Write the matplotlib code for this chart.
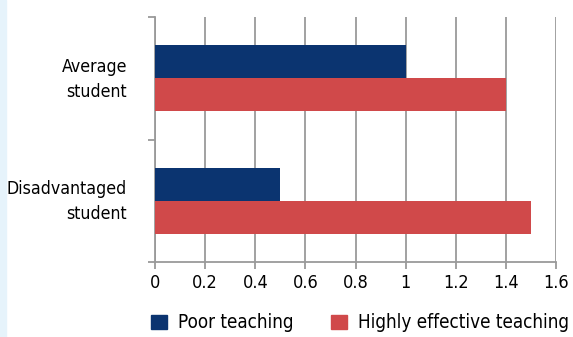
import matplotlib.pyplot as plt
import numpy as np
from matplotlib.patches import Patch

categories = ["Average\nstudent", "Disadvantaged\nstudent"]
poor_teaching = [1.0, 0.5]
effective_teaching = [1.4, 1.5]
xticks = [0, 0.2, 0.4, 0.6, 0.8, 1, 1.2, 1.4, 1.6]
xtick_labels = ["0", "0.2", "0.4", "0.6", "0.8", "1", "1.2", "1.4", "1.6"]

navy = "#0b3470"
red = "#d0494a"
grid_col = "#9a9a9a"

plt.rcParams['font.family'] = ['DejaVu Sans']
plt.rcParams['font.stretch'] = 'condensed'

fig = plt.figure(figsize=(5.73, 3.37), dpi=100)
fig.patch.set_facecolor("white")
# light blue strip on the left edge
fig.add_artist(plt.Rectangle((0, 0), 6 / 573, 1, transform=fig.transFigure,
                             color="#e6f3fb", zorder=0))

ax = fig.add_axes([155 / 573, 1 - 262 / 337, (556 - 155) / 573, (262 - 17) / 337])

y = np.arange(len(categories))
h = 0.27
ax.barh(y - h / 2, poor_teaching, height=h, color=navy, zorder=3)
ax.barh(y + h / 2, effective_teaching, height=h, color=red, zorder=3)

ax.set_ylim(len(categories) - 0.5, -0.5)
ax.set_xlim(0, 1.6)
ax.set_xticks(xticks)
ax.set_xticklabels(xtick_labels, fontsize=13)
# labels sit a little above the group centre in the original
ax.set_yticks(y - 0.035)
ax.set_yticklabels(categories, fontsize=12.7, linespacing=1.5)
ax.set_yticks([-0.5, 0.5, 1.5], minor=True)

ax.grid(axis="x", color=grid_col, linewidth=1.3, zorder=0)
for s in ["top", "right"]:
    ax.spines[s].set_visible(False)
for s in ["left", "bottom"]:
    ax.spines[s].set_color(grid_col)
    ax.spines[s].set_linewidth(1.3)

ax.tick_params(axis="x", length=5, width=1.3, color=grid_col, pad=4)
ax.tick_params(axis="y", which="major", length=0, pad=20)
ax.tick_params(axis="y", which="minor", length=5, width=1.3, color=grid_col)

handles = [Patch(color=navy, label="Poor teaching"),
           Patch(color=red, label="Highly effective teaching")]
fig.legend(handles=handles, loc="center", bbox_to_anchor=(360 / 573, 1 - 323 / 337),
           ncol=2, frameon=False, fontsize=13.5, handlelength=0.85, handleheight=0.85,
           handletextpad=0.6, columnspacing=2.0)

fig.savefig("out.png", dpi=100)
